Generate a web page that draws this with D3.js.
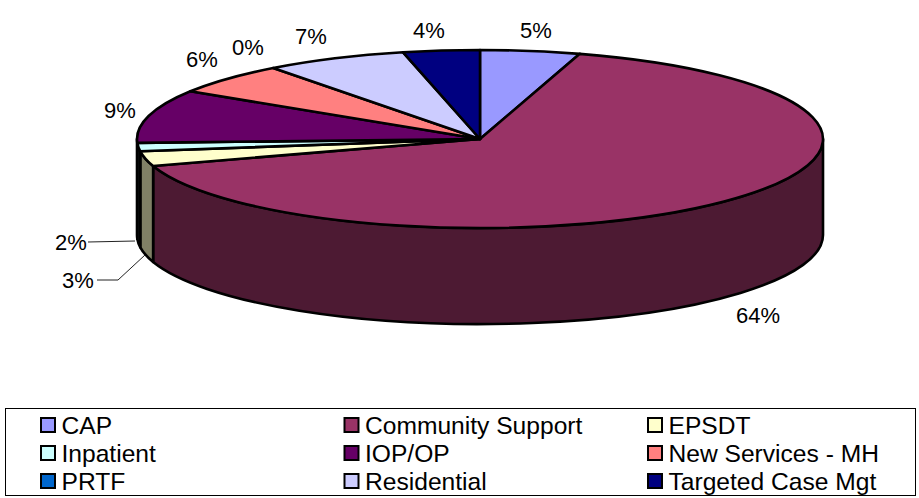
<!DOCTYPE html>
<html><head><meta charset="utf-8">
<script src="https://cdn.jsdelivr.net/npm/d3@7"></script>
<style>html,body{margin:0;padding:0;background:#fff}svg{display:block}text{font-family:"Liberation Sans",Arial,sans-serif;fill:#000}</style>
</head><body><svg id="c" width="919" height="498"></svg>
<script>
const categories=["CAP","Community Support","EPSDT","Inpatient","IOP/OP","New Services - MH","PRTF","Residential","Targeted Case Mgt"];
const values=[4.7,65.4,2.7,1.5,9.7,5.7,0,6.7,3.6];
const valueLabels=["5%","64%","3%","2%","9%","6%","0%","7%","4%"];
const topColors=["#9999FF","#993366","#FFFFCC","#CCFFFF","#660066","#FF8080","#0066CC","#CCCCFF","#000080"];
const sideColors=["#4D4D80","#4D1A33","#808066","#334040","#330033","#804040","#003366","#666680","#000040"];

const labelAt=[[536,30],[758,315],[78,280],[71,242],[120,110],[202,59],[248,47],[311,36],[429,30]];
const cx=480,cy=139,rx=343,ry=89,depth=96;
const svg=d3.select("#c");
const TAU=Math.PI*2;
const arcs=d3.pie().sort(null).value(d=>d).startAngle(0).endAngle(TAU)(values);
const px=a=>cx+rx*Math.sin(a), py=(a,h=0)=>cy-ry*Math.cos(a)+h;

function rim(a0,a1,h){
  const large=(a1-a0)>Math.PI?1:0;
  return `A${rx},${ry} 0 ${large} 1 ${px(a1)},${py(a1,h)}`;
}
const g=svg.append("g").attr("stroke","#000").attr("stroke-width",2.6).attr("stroke-linejoin","round");
arcs.forEach((d,i)=>{
  const a0=Math.max(d.startAngle,Math.PI/2), a1=Math.min(d.endAngle,Math.PI*1.5);
  if(a1<=a0) return;
  g.append("path").attr("fill",sideColors[i])
   .attr("d",`M${px(a0)},${py(a0)} ${rim(a0,a1,0)} L${px(a1)},${py(a1,depth)} `+
     `A${rx},${ry} 0 ${(a1-a0)>Math.PI?1:0} 0 ${px(a0)},${py(a0,depth)} Z`);
});
arcs.forEach((d,i)=>{
  if(d.endAngle-d.startAngle<1e-6) return;
  g.append("path").attr("fill",topColors[i])
   .attr("d",`M${cx},${cy} L${px(d.startAngle)},${py(d.startAngle)} ${rim(d.startAngle,d.endAngle,0)} Z`);
});
const leader=d3.line();
svg.append("path").attr("d",leader([[88,242],[135,241]])).attr("fill","none").attr("stroke","#222").attr("stroke-width",1);
svg.append("path").attr("d",leader([[97,280],[118,280],[145,255]])).attr("fill","none").attr("stroke","#222").attr("stroke-width",1);
valueLabels.forEach((t,i)=>{
  svg.append("text").attr("x",labelAt[i][0]).attr("y",labelAt[i][1]).attr("dy","0.36em")
   .attr("text-anchor","middle").attr("font-size",22).text(t);
});
svg.append("rect").attr("x",5.5).attr("y",408.5).attr("width",910).attr("height",87).attr("fill","#fff").attr("stroke","#000").attr("stroke-width",1);
const colX=d3.scalePoint().domain([0,1,2]).range([40,647]);
const rowY=d3.scalePoint().domain([0,1,2]).range([417,473]);
categories.forEach((c,i)=>{
  const x=colX(i%3), y=rowY(Math.floor(i/3));
  svg.append("rect").attr("x",x+1).attr("y",y+1).attr("width",14).attr("height",14).attr("fill",topColors[i]).attr("stroke","#000").attr("stroke-width",2);
  svg.append("text").attr("x",x+21.5).attr("y",y+17).attr("font-size",24.6).text(c);
});
</script></body></html>
